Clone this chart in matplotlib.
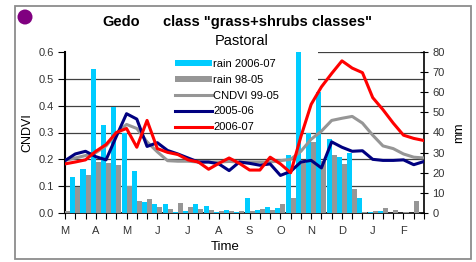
import numpy as np
import matplotlib
matplotlib.use("Agg")
import matplotlib.pyplot as plt
import matplotlib.patches as patches

plt.rcParams['font.family'] = ['Liberation Sans', 'DejaVu Sans']

# ---- data (36 dekads, March .. February) ----
month_labels = ["M", "A", "M", "J", "J", "A", "S", "O", "N", "D", "J", "F"]

rain_0607 = [0, 18, 22, 71.6, 43.5, 52.8, 40, 21, 5.6, 4.5, 4.5, 0.5,
             1, 4.5, 3.6, 0.7, 1.5, 0.7, 7.3, 1.5, 2.8, 2.3, 29, 82,
             39.6, 60, 36.7, 27.6, 29.8, 7.4, 0.3, 1, 0, 0, 0, 0]
rain_9805 = [1, 13, 19, 25.5, 25, 24, 13.6, 5.8, 7, 2.8, 1.8, 4.8,
             2.8, 1.8, 1.5, 1, 1, 1, 1, 1.8, 1.5, 4.5, 7.4, 25,
             35.4, 26, 28.8, 24.5, 12, 0.6, 1, 2.5, 1.6, 0.3, 6, 0]
cndvi_9905 = [0.196, 0.205, 0.214, 0.225, 0.25, 0.295, 0.33, 0.315, 0.265, 0.228, 0.195, 0.193,
              0.193, 0.19, 0.19, 0.19, 0.192, 0.19, 0.19, 0.19, 0.19, 0.195, 0.2, 0.23,
              0.275, 0.305, 0.345, 0.353, 0.36, 0.335, 0.29, 0.25, 0.24, 0.22, 0.208, 0.205]
cndvi_0506 = [0.195, 0.22, 0.23, 0.21, 0.198, 0.285, 0.37, 0.35, 0.248, 0.262, 0.233, 0.22,
              0.205, 0.19, 0.19, 0.183, 0.158, 0.19, 0.185, 0.178, 0.183, 0.14, 0.155, 0.19,
              0.196, 0.168, 0.265, 0.245, 0.23, 0.232, 0.2, 0.196, 0.196, 0.198, 0.18, 0.192]
cndvi_0607 = [0.183, 0.19, 0.198, 0.23, 0.255, 0.30, 0.315, 0.245, 0.345, 0.24, 0.226, 0.218,
              0.198, 0.19, 0.163, 0.185, 0.205, 0.185, 0.16, 0.16, 0.208, 0.183, 0.15, 0.285,
              0.405, 0.47, 0.52, 0.567, 0.54, 0.523, 0.43, 0.385, 0.335, 0.29, 0.278, 0.27]

x = np.arange(len(rain_0607))

C_CYAN = '#00CCFF'
C_GRAY = '#969696'
C_NAVY = '#000080'
C_RED = '#FF0000'
TXT = '#333333'

W, H = 477, 262
fig = plt.figure(figsize=(W / 100, H / 100), dpi=100)

# outer frame + purple dot
fig.patches.append(patches.Rectangle((15 / W, 1 - 259 / H), 456 / W, 253 / H,
                                     transform=fig.transFigure, fill=False,
                                     edgecolor='#8c8c8c', linewidth=1.3))
fig.patches.append(patches.Ellipse((25 / W, 1 - 17 / H), 15 / W, 15 / H,
                                   transform=fig.transFigure, facecolor='#800080',
                                   edgecolor='none'))

# ---- base axes: CNDVI scale, gridlines ----
ax = fig.add_axes([65 / W, 1 - 213 / H, 359 / W, 161 / H])
ax.set_xlim(0, len(x) - 1)
ax.set_ylim(0, 0.6)
ax.set_yticks(np.arange(0, 0.61, 0.1))
ax.set_yticklabels([f"{v:.1f}" for v in np.arange(0, 0.61, 0.1)])
for v in np.arange(0.1, 0.51, 0.1):
    ax.axhline(v, color='#404040', lw=0.9, zorder=0)
ax.axhline(0.6, xmin=(297 - 65) / 359, color='#404040', lw=0.9, zorder=0)
# white area behind legend hides the gridlines
ax.add_patch(patches.Rectangle(((140 - 65) / 359, (213 - 128) / 161),
                               (318 - 140) / 359, 1.0, transform=ax.transAxes,
                               facecolor='white', edgecolor='none', zorder=0.5))
ax.set_xticks(x)
ax.set_xticklabels([month_labels[i // 3] if i % 3 == 0 else "" for i in x])
ax.tick_params(axis='x', direction='out', length=4, width=0.8, pad=5,
               labelsize=8, colors='black', labelcolor=TXT)
ax.tick_params(axis='y', direction='out', length=5, width=0.8, pad=3,
               labelsize=8, labelcolor=TXT)
for s in ['top', 'right']:
    ax.spines[s].set_visible(False)
ax.spines['left'].set_linewidth(1.5)
ax.spines['bottom'].set_linewidth(1.2)

# ---- bars on mm scale ----
ax2 = ax.twinx()
ax2.set_ylim(0, 80)
bw = 0.49
b1 = ax2.bar(x - bw / 2, rain_0607, width=bw, color=C_CYAN, linewidth=0, label='rain 2006-07')
b2 = ax2.bar(x + bw / 2, rain_9805, width=bw, color=C_GRAY, linewidth=0, label='rain 98-05')
ax2.set_yticks(np.arange(0, 81, 10))
ax2.tick_params(axis='y', direction='inout', length=6, width=0.8, pad=3,
                labelsize=8, labelcolor=TXT)
for s in ['top', 'left', 'bottom']:
    ax2.spines[s].set_visible(False)
ax2.spines['right'].set_linewidth(1.2)

# ---- lines on CNDVI scale (topmost) ----
ax3 = ax.twinx()
ax3.set_ylim(0, 0.6)
ax3.axis('off')
l1, = ax3.plot(x, cndvi_9905, color=C_GRAY, lw=2.2, label='CNDVI 99-05')
l2, = ax3.plot(x, cndvi_0506, color=C_NAVY, lw=2.2, label='2005-06')
l3, = ax3.plot(x, cndvi_0607, color=C_RED, lw=2.2, label='2006-07')

ax3.legend(handles=[b1, b2, l1, l2, l3], loc='upper left',
           bbox_to_anchor=((175 - 65) / 359, (213 - 59) / 161),
           frameon=False, fontsize=8, handlelength=3.3, handleheight=0.45,
           handletextpad=0.15, labelspacing=0.52, borderpad=0, borderaxespad=0)

# ---- texts ----
fig.text(102 / W, 1 - 22 / H, "Gedo", fontsize=10.5, fontweight='bold', va='center', ha='left')
fig.text(163 / W, 1 - 22 / H, 'class "grass+shrubs classes"', fontsize=10.5,
         fontweight='bold', va='center', ha='left')
fig.text(242 / W, 1 - 41 / H, "Pastoral", fontsize=10.5, va='center', ha='center')
fig.text(27 / W, 1 - 133 / H, "CNDVI", fontsize=9, rotation=90, va='center', ha='center')
fig.text(459 / W, 1 - 133 / H, "mm", fontsize=9, rotation=90, va='center', ha='center')
fig.text(225 / W, 1 - 247 / H, "Time", fontsize=9.5, va='center', ha='center')

fig.savefig("out.png", dpi=100)
